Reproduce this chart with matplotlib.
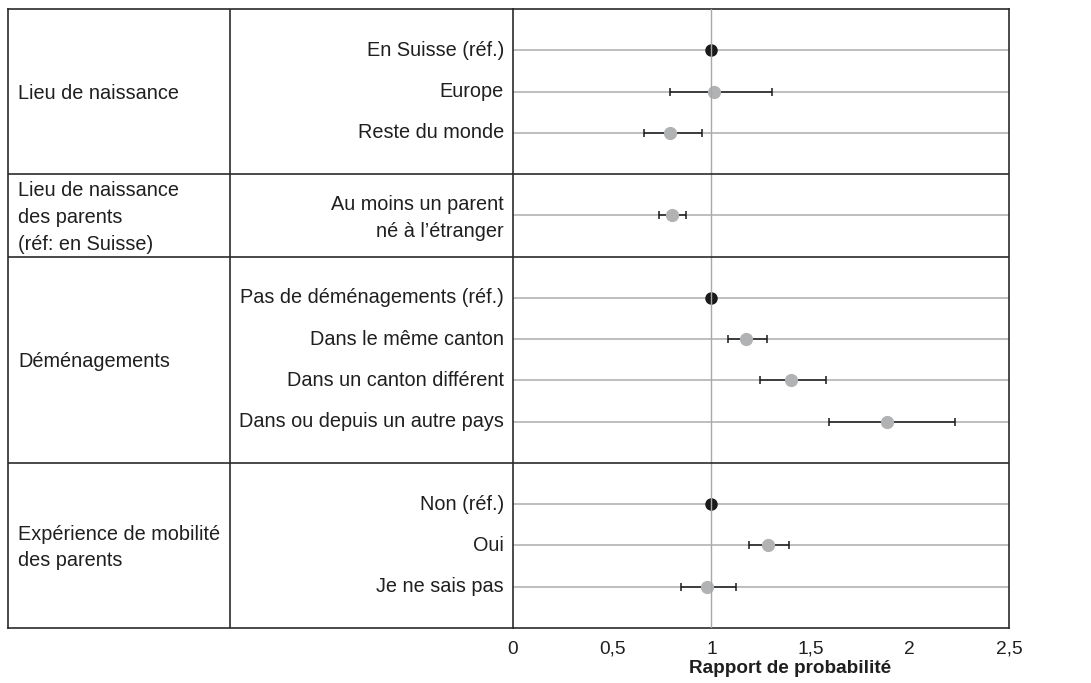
import numpy as np
import matplotlib.pyplot as plt

plt.rcParams['font.family'] = ['Liberation Sans', 'DejaVu Sans']

# Groups of explanatory variables and their categories
groups = ['Lieu de naissance',
          'Lieu de naissance\ndes parents\n(réf: en Suisse)',
          'Déménagements',
          'Expérience de mobilité\ndes parents']
categories = [
    ['En Suisse (réf.)', 'Europe', 'Reste du monde'],
    ['Au moins un parent\nné à l\u2019étranger'],
    ['Pas de déménagements (réf.)', 'Dans le même canton',
     'Dans un canton différent', 'Dans ou depuis un autre pays'],
    ['Non (réf.)', 'Oui', 'Je ne sais pas'],
]

# Odds ratios with confidence bounds (reference categories = 1)
odds = [[1.0, 1.015, 0.793], [0.803], [1.0, 1.176, 1.401, 1.885], [1.0, 1.284, 0.976]]
lower = [[1.0, 0.79, 0.66], [0.736], [1.0, 1.084, 1.245, 1.594], [1.0, 1.187, 0.848]]
upper = [[1.0, 1.305, 0.951], [0.874], [1.0, 1.279, 1.578, 2.229], [1.0, 1.390, 1.124]]
is_ref = [[True, False, False], [False], [True, False, False, False], [True, False, False]]

xticks = [0, 0.5, 1, 1.5, 2, 2.5]
xticklabels = ['0', '0,5', '1', '1,5', '2', '2,5']

W, H = 1091, 683
fig = plt.figure(figsize=(W / 100, H / 100), dpi=100)
top, bottom = 9, 628
# left-hand table first so its background stays under the plot frame
axt = fig.add_axes([8 / W, 1 - bottom / H, (513 - 8) / W, (bottom - top) / H])
ax = fig.add_axes([513 / W, 1 - bottom / H, (1009 - 513) / W, (bottom - top) / H])
ax.patch.set_visible(False)

# row layout: each group gets one blank unit plus one unit per category
starts = np.cumsum([0] + [len(c) + 1 for c in categories])
total = starts[-1]

edge = '#2b2b2b'
txt = '#1f1f1f'
fs = 14.3

for a in (ax, axt):
    a.set_ylim(total, 0)
    for b in starts[1:-1]:
        a.axhline(b, color=edge, lw=1.2, zorder=5)

axt.set_xlim(8, 513)
axt.axvline(230, color=edge, lw=1.2)
axt.set_xticks([])
axt.set_yticks([])
for s in ('left', 'top', 'bottom'):
    axt.spines[s].set_color(edge)
    axt.spines[s].set_linewidth(1.2)
axt.spines['right'].set_visible(False)

for g, (name, cats) in enumerate(zip(groups, categories)):
    s0 = starts[g]
    axt.text(18, (starts[g] + starts[g + 1]) / 2 + 0.05, name, ha='left', va='center',
             fontsize=fs, color=txt, linespacing=1.52)
    for i, cat in enumerate(cats):
        y = s0 + 1 + i
        axt.text(504, y + (0.07 if '\n' in cat else 0), cat, ha='right', va='center',
                 fontsize=fs, color=txt, linespacing=1.52)
        ax.hlines(y, 0, 2.5, color='#b3b3b3', lw=1.2, zorder=1)
        if is_ref[g][i]:
            ax.plot(odds[g][i], y, 'o', color='#1a1a1a', ms=8, zorder=3)
        else:
            o = odds[g][i]
            ax.errorbar(o, y, xerr=[[o - lower[g][i]], [upper[g][i] - o]],
                        fmt='none', ecolor='#1a1a1a', elinewidth=1.1,
                        capsize=2.6, capthick=1.1, zorder=2)
            ax.plot(o, y, 'o', color='#b1b2b4', ms=8.5, zorder=3)

ax.axvline(1, color='#a8a8a8', lw=1, zorder=4)

ax.set_xlim(0, 2.5)
ax.set_xticks(xticks)
ax.set_xticklabels(xticklabels, fontsize=13.8, color=txt)
ax.set_yticks([])
ax.tick_params(axis='x', length=0, pad=9)
for s in ax.spines.values():
    s.set_color(edge)
    s.set_linewidth(1.2)
ax.set_xlabel('Rapport de probabilité', fontsize=13.6, fontweight='bold', color=txt)
ax.xaxis.set_label_coords(0.558, -0.052)

fig.savefig('out.png', dpi=100)
